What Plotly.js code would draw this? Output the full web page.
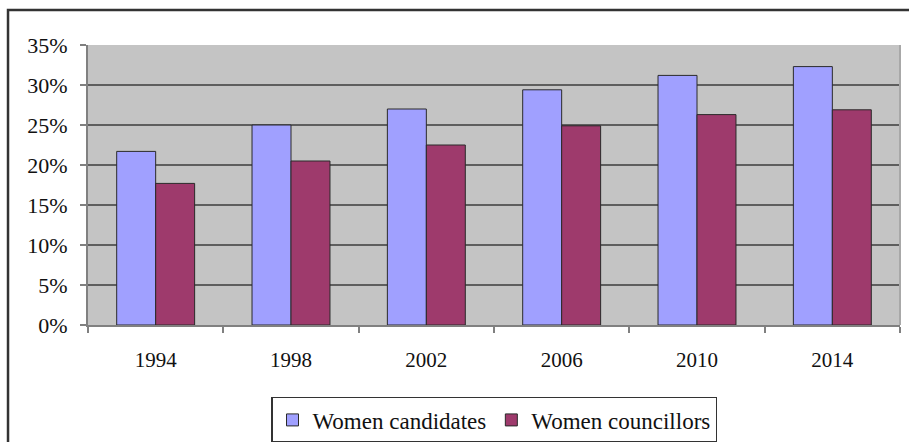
<!DOCTYPE html>
<html>
<head>
<meta charset="utf-8">
<script src="https://cdn.plot.ly/plotly-3.0.1.min.js"></script>
<style>html,body{margin:0;padding:0;background:#fff;}</style>
</head>
<body>
<div id="chart" style="width:909px;height:442px;"></div>
<script>
const years = ["1994", "1998", "2002", "2006", "2010", "2014"];
const womenCandidates = [21.7, 25.0, 27.0, 29.4, 31.2, 32.3];
const womenCouncillors = [17.7, 20.5, 22.5, 24.9, 26.3, 26.9];
const seriesNames = ["Women candidates", "Women councillors"];

const SERIF = "'Times New Roman', 'Liberation Serif', serif";

const traces = [
  {type: "bar", x: years, y: womenCandidates, name: seriesNames[0],
   marker: {color: "#A0A0FF", line: {color: "#2a2a2a", width: 1}}},
  {type: "bar", x: years, y: womenCouncillors, name: seriesNames[1],
   marker: {color: "#9E3A6C", line: {color: "#2a2a2a", width: 1}}}
];

const layout = {
  width: 909, height: 442,
  margin: {l: 88, r: 9, t: 45, b: 117, pad: 0, autoexpand: false},
  paper_bgcolor: "#ffffff",
  plot_bgcolor: "#C4C4C4",
  barmode: "group",
  bargap: 0.424,
  bargroupgap: 0,
  showlegend: true,
  font: {family: SERIF, color: "#111", size: 20},
  xaxis: {
    type: "category",
    tickson: "boundaries",
    ticks: "outside", ticklen: 6, tickcolor: "#808080", tickwidth: 2,
    showline: true, linecolor: "#808080", linewidth: 2,
    showgrid: false, zeroline: false,
    tickfont: {family: SERIF, size: 21, color: "#111"},
    ticklabelstandoff: 15,
    automargin: false,
    fixedrange: true
  },
  yaxis: {
    range: [0, 35], dtick: 5, tick0: 0,
    ticksuffix: "%",
    ticks: "outside", ticklen: 6, tickcolor: "#808080", tickwidth: 2,
    showline: true, linecolor: "#808080", linewidth: 2,
    showgrid: true, gridcolor: "#5e5e5e", gridwidth: 2,
    zeroline: false,
    tickfont: {family: SERIF, size: 22, color: "#111"},
    ticklabelstandoff: 8,
    automargin: false,
    fixedrange: true
  },
  legend: {
    orientation: "h",
    x: 0.5, xanchor: "center",
    y: -0.257, yanchor: "top",
    bgcolor: "#ffffff",
    bordercolor: "#333333", borderwidth: 1.5,
    font: {family: SERIF, size: 23, color: "#111"},
    itemwidth: 30,
    traceorder: "normal"
  },
  shapes: [
    {type: "rect", xref: "paper", yref: "paper",
     x0: -0.0985, x1: 1.2, y0: -0.6, y1: 1.125,
     line: {color: "#333333", width: 2.5}, fillcolor: "rgba(0,0,0,0)", layer: "below"},
    {type: "line", xref: "paper", yref: "paper",
     x0: 1, x1: 1, y0: 0, y1: 1,
     line: {color: "#A8A8A8", width: 2}}
  ]
};

Plotly.newPlot("chart", traces, layout, {displayModeBar: false, staticPlot: true});
</script>
</body>
</html>
